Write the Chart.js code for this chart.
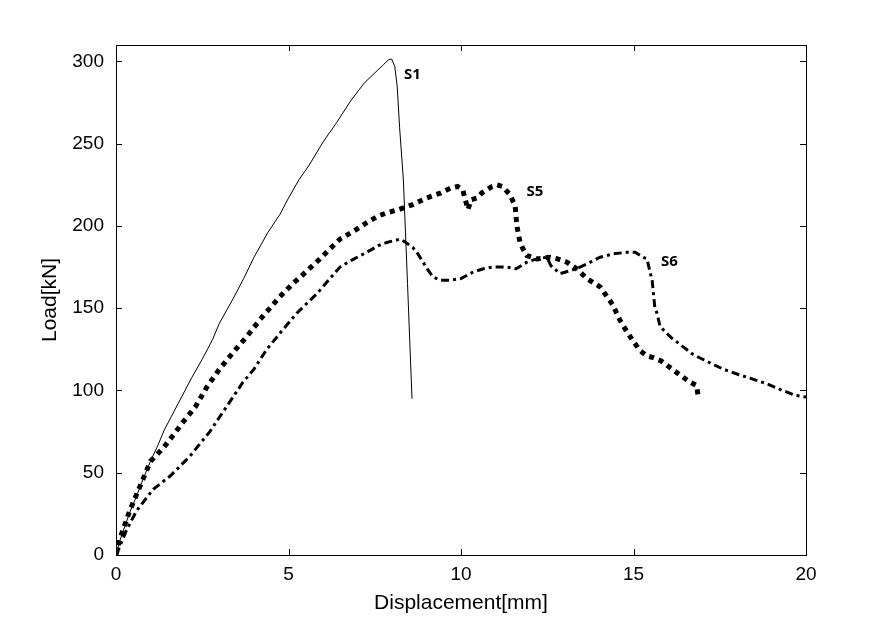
<!DOCTYPE html>
<html>
<head>
<meta charset="utf-8">
<script src="https://cdn.jsdelivr.net/npm/chart.js@4/dist/chart.umd.min.js"></script>
<style>
  html, body { margin: 0; padding: 0; background: #fff; }
  #wrap { width: 892px; height: 626px; }
</style>
</head>
<body>
<div id="wrap"><canvas id="c" width="892" height="626"></canvas></div>
<script>
// ---- data ----
const s1X = [0, 0.1, 0.25, 0.4, 0.6, 0.78, 1.0, 1.2, 1.4, 1.6, 1.8, 2.0, 2.2, 2.5, 2.8, 3.0, 3.4, 3.7, 4.0, 4.4, 4.75, 5.0, 5.3, 5.6, 6.0, 6.4, 6.8, 7.2, 7.5, 7.75, 7.9, 7.99, 8.08, 8.15, 8.22, 8.33, 8.45, 8.58];
const s1Y = [0, 8, 17, 26, 36, 46, 57, 66, 76, 84, 92, 100, 108, 119, 131, 141, 156, 168, 181, 196, 207, 217, 228, 237, 251, 263, 276, 287, 293, 298, 301, 301.5, 297, 285, 260, 228, 165, 95];

const s5X = [0, 0.1, 0.25, 0.4, 0.7, 1.0, 1.37, 1.7, 1.95, 2.3, 2.63, 3.0, 3.39, 3.8, 4.17, 4.5, 4.75, 5.13, 5.5, 5.91, 6.2, 6.49, 6.9, 7.27, 7.6, 7.85, 8.2, 8.6, 9.0, 9.4, 9.7, 9.9, 10.05, 10.2, 10.3, 10.46, 10.6, 10.75, 10.9, 11.04, 11.2, 11.42, 11.57, 11.62, 11.71, 11.8, 11.91, 12.2, 12.58, 12.8, 13.07, 13.35, 13.65, 14.03, 14.2, 14.4, 14.6, 14.8, 14.99, 15.2, 15.39, 15.57, 15.8, 16.06, 16.25, 16.44, 16.65, 16.83, 16.87];
const s5Y = [0, 9, 18, 27, 42, 57, 65, 74, 81, 90, 102, 113, 123, 133, 143, 151, 157, 165, 172, 180, 186, 192, 197, 202, 206, 208, 210, 213, 217, 220, 223, 224, 222, 210, 216, 217, 220, 222, 224, 225, 224, 219, 212, 200, 190, 186, 182, 180, 181, 180, 178, 174, 168, 163, 158, 152, 143, 136, 130, 124, 121, 120, 118, 114, 111, 108, 105, 103, 97];

const s6X = [0, 0.11, 0.3, 0.6, 1.08, 1.57, 2.14, 2.72, 3.2, 3.68, 4.0, 4.37, 4.8, 5.24, 5.83, 6.2, 6.49, 6.9, 7.27, 7.6, 7.85, 8.05, 8.23, 8.4, 8.6, 8.75, 8.9, 9.05, 9.19, 9.4, 9.68, 10.0, 10.35, 10.65, 10.93, 11.33, 11.6, 11.91, 12.2, 12.49, 12.6, 12.87, 13.2, 13.45, 13.75, 14.03, 14.4, 14.8, 15.05, 15.28, 15.39, 15.48, 15.54, 15.62, 15.68, 15.77, 15.86, 16.1, 16.35, 16.72, 17.0, 17.2, 17.6, 18.0, 18.3, 18.87, 19.2, 19.45, 19.7, 20.0];
const s6Y = [0, 5, 15, 27, 40, 48, 60, 75, 90, 105, 113, 125, 136, 147, 159, 168, 175, 180, 184, 188, 190, 191, 192, 190, 187, 183, 178, 173, 169, 167, 167, 168, 172, 174, 175, 175, 174, 178, 180, 181, 176, 171, 173, 175, 178, 181, 183, 184, 184, 181, 180, 172, 167, 150, 147, 139, 137, 132, 128, 122, 119, 117, 113, 110, 108, 104, 101, 99, 97, 96];

const seriesNames = ['S1', 'S5', 'S6'];
const xTickValues = [0, 5, 10, 15, 20];
const yTickValues = [0, 50, 100, 150, 200, 250, 300];
const xTitle = 'Displacement[mm]';
const yTitle = 'Load[kN]';

// label anchors (data coordinates)
const labelAnchors = [
  { text: 'S1', x: 8.35, y: 292 },
  { text: 'S5', x: 11.9, y: 221 },
  { text: 'S6', x: 15.8, y: 178 }
];

const toPts = (xs, ys) => xs.map((x, i) => ({ x: x, y: ys[i] }));

const frameTicks = {
  id: 'frameTicks',
  afterDatasetsDraw(chart) {
    const { ctx, chartArea: a, scales } = chart;
    ctx.save();
    ctx.strokeStyle = '#000';
    ctx.lineWidth = 1;
    ctx.strokeRect(Math.round(a.left) + 0.5, Math.round(a.top) + 0.5, Math.round(a.right - a.left), Math.round(a.bottom - a.top));
    const L = 6;
    ctx.beginPath();
    xTickValues.forEach(v => {
      const px = Math.round(scales.x.getPixelForValue(v)) + 0.5;
      ctx.moveTo(px, a.bottom); ctx.lineTo(px, a.bottom - L);
      ctx.moveTo(px, a.top); ctx.lineTo(px, a.top + L);
    });
    yTickValues.forEach(v => {
      const py = Math.round(scales.y.getPixelForValue(v)) + 0.5;
      ctx.moveTo(a.left, py); ctx.lineTo(a.left + L, py);
      ctx.moveTo(a.right, py); ctx.lineTo(a.right - L, py);
    });
    ctx.stroke();
    // series labels
    ctx.fillStyle = '#000';
    ctx.font = 'bold 15px "Open Sans", "Noto Sans", sans-serif';
    ctx.textAlign = 'left';
    ctx.textBaseline = 'middle';
    labelAnchors.forEach(l => {
      ctx.fillText(l.text, scales.x.getPixelForValue(l.x), scales.y.getPixelForValue(l.y));
    });
    ctx.restore();
  }
};

Chart.defaults.color = '#000';
Chart.defaults.font.family = '"Liberation Sans", Arial, sans-serif';

new Chart(document.getElementById('c'), {
  type: 'scatter',
  data: {
    datasets: [
      { label: seriesNames[0], data: toPts(s1X, s1Y), showLine: true, borderColor: '#000', borderWidth: 1, pointRadius: 0, tension: 0 },
      { label: seriesNames[1], data: toPts(s5X, s5Y), showLine: true, borderColor: '#000', borderWidth: 5, borderDash: [5, 5], borderCapStyle: 'butt', pointRadius: 0, tension: 0 },
      { label: seriesNames[2], data: toPts(s6X, s6Y), showLine: true, borderColor: '#000', borderWidth: 3, borderDash: [8, 4, 3, 4], borderCapStyle: 'butt', pointRadius: 0, tension: 0 }
    ]
  },
  options: {
    responsive: false,
    animation: false,
    layout: { padding: { top: 45, right: 86, left: 0, bottom: 0 } },
    plugins: { legend: { display: false }, tooltip: { enabled: false } },
    scales: {
      x: {
        type: 'linear', min: 0, max: 20,
        grid: { display: false, drawTicks: false },
        border: { display: false },
        ticks: { stepSize: 5, font: { size: 19 }, padding: 8, maxRotation: 0, includeBounds: false },
        title: { display: true, text: xTitle, font: { size: 21 }, padding: { top: 0, bottom: 10 } },
        afterFit(s) { s.height = 71; }
      },
      y: {
        type: 'linear', min: 0, max: 310,
        grid: { display: false, drawTicks: false },
        border: { display: false },
        ticks: { stepSize: 50, font: { size: 19 }, padding: 12, includeBounds: false },
        title: { display: true, text: yTitle, font: { size: 21 }, padding: { top: 38, bottom: 0 } },
        afterFit(s) { s.width = 116; }
      }
    }
  },
  plugins: [frameTicks]
});
</script>
</body>
</html>
